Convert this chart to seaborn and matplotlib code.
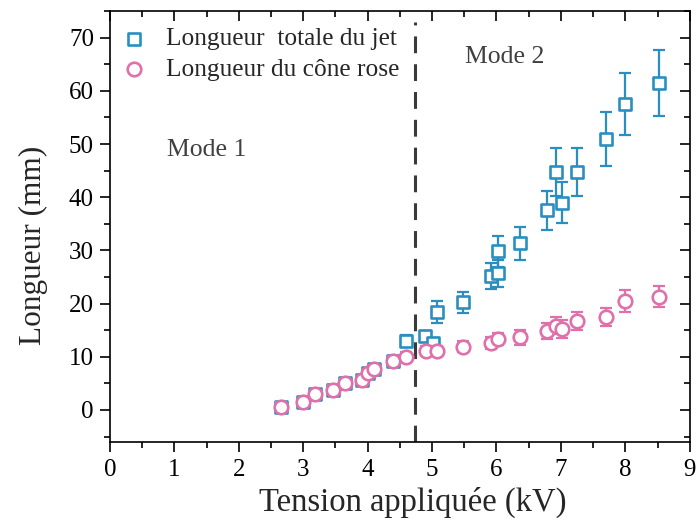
import numpy as np
import pandas as pd
import matplotlib
matplotlib.use("Agg")
import matplotlib.pyplot as plt
import seaborn as sns
from matplotlib.ticker import MultipleLocator

# ---- data ----
jet_x = [2.65, 2.99, 3.18, 3.46, 3.65, 3.92, 4.01, 4.10, 4.40, 4.59, 4.89, 5.01, 5.07,
         5.48, 5.91, 6.02, 6.02, 6.36, 6.78, 6.93, 7.02, 7.25, 7.70, 8.00, 8.52]
jet_y = [0.6, 1.45, 2.95, 3.8, 5.1, 5.6, 6.95, 7.65, 9.27, 13.0, 13.9, 12.65, 18.4,
         20.2, 25.2, 29.8, 25.7, 31.3, 37.5, 44.8, 39.0, 44.8, 51.0, 57.5, 61.4]
jet_err = [0.5, 0.5, 0.5, 0.5, 0.5, 0.5, 0.5, 0.5, 0.5, 1.0, 1.0, 0.8, 2.0,
           2.0, 2.4, 2.9, 2.5, 3.1, 3.75, 4.5, 3.85, 4.5, 5.1, 5.8, 6.2]

cone_x = [2.65, 2.99, 3.18, 3.46, 3.65, 3.92, 4.01, 4.10, 4.40, 4.59, 4.90, 5.07,
          5.48, 5.91, 6.02, 6.36, 6.78, 6.93, 7.02, 7.25, 7.70, 8.00, 8.52]
cone_y = [0.62, 1.45, 2.95, 3.8, 5.1, 5.6, 6.95, 7.65, 9.27, 10.0, 11.15, 11.1,
          11.9, 12.6, 13.35, 13.7, 14.85, 15.8, 15.2, 16.7, 17.5, 20.5, 21.3]
cone_err = [0.8, 0.8, 0.8, 0.8, 0.8, 0.8, 0.8, 0.8, 0.8, 0.8, 0.9, 0.9,
            1.0, 1.1, 1.2, 1.4, 1.5, 1.6, 1.7, 1.7, 1.7, 2.1, 2.0]

label_jet = "Longueur  totale du jet"
label_cone = "Longueur du cône rose"
mode_labels = ["Mode 1", "Mode 2"]
mode_boundary = 4.73

BLUE = "#2a8fc0"
PINK = "#e070aa"

sns.set_theme(style="ticks")
plt.rcParams['font.family'] = ['Liberation Serif', 'DejaVu Serif']

fig = plt.figure(figsize=(6.96, 5.26), dpi=100)
ax = fig.add_axes([0.158, 0.160, 0.833, 0.819])

df_jet = pd.DataFrame({"x": jet_x, "y": jet_y, "e": jet_err})
df_cone = pd.DataFrame({"x": cone_x, "y": cone_y, "e": cone_err})

# error bars
ax.errorbar(df_jet.x, df_jet.y, yerr=df_jet.e, fmt='none', ecolor=BLUE,
            elinewidth=1.6, capsize=4.0, capthick=1.6, zorder=2)
ax.errorbar(df_cone.x, df_cone.y, yerr=df_cone.e, fmt='none', ecolor=PINK,
            elinewidth=1.6, capsize=4.0, capthick=1.6, zorder=4)

# markers
sns.scatterplot(data=df_jet, x="x", y="y", marker="s", s=75, facecolor="white",
                edgecolor=BLUE, linewidth=1.9, label=label_jet, ax=ax, zorder=3)
sns.scatterplot(data=df_cone, x="x", y="y", marker="o", s=95, facecolor="white",
                edgecolor=PINK, linewidth=1.9, label=label_cone, ax=ax, zorder=5)

# mode boundary
ax.axvline(mode_boundary, ymin=0, ymax=0.975, color="#3a3a3a", lw=2.2,
           dashes=(5.5, 3.6), zorder=1)

ax.text(0.88, 48.9, mode_labels[0], fontsize=18.5, color="#404040", va="center")
ax.text(5.51, 66.4, mode_labels[1], fontsize=18.5, color="#404040", va="center")

ax.set_xlim(0, 9)
ax.set_ylim(-6, 75)
ax.xaxis.set_major_locator(MultipleLocator(1))
ax.xaxis.set_minor_locator(MultipleLocator(0.5))
ax.yaxis.set_minor_locator(MultipleLocator(5))
ax.set_yticks(np.arange(0, 71, 10))

ax.tick_params(axis='both', which='major', direction='out', length=7.5, width=1.2,
               labelsize=18, color='black', labelcolor='black')
ax.tick_params(axis='x', which='major', pad=5)
ax.tick_params(axis='y', which='major', pad=4)
ax.tick_params(axis='both', which='minor', direction='out', length=4.5, width=1.2,
               color='black')
ax.tick_params(top=True, right=True, which='both')
# top and right ticks inward
for t in ax.xaxis.get_major_ticks() + ax.xaxis.get_minor_ticks():
    t.tick2line.set_marker(matplotlib.lines.TICKDOWN)
for t in ax.yaxis.get_major_ticks() + ax.yaxis.get_minor_ticks():
    t.tick2line.set_marker(matplotlib.lines.TICKLEFT)

for sp in ax.spines.values():
    sp.set_linewidth(1.2)
    sp.set_color('black')

ax.set_xlabel("Tension appliquée (kV)", fontsize=23.5)
ax.xaxis.set_label_coords(0.522, -0.105)
ax.set_ylabel("Longueur (mm)", fontsize=22.5)
ax.yaxis.set_label_coords(-0.107, 0.455)

leg = ax.legend(loc="upper left", bbox_to_anchor=(-0.005, 0.985), frameon=False,
                fontsize=18.3, handletextpad=0.6, labelspacing=0.3,
                borderaxespad=0.0, handlelength=1.3)

fig.savefig("out.png", dpi=100)
